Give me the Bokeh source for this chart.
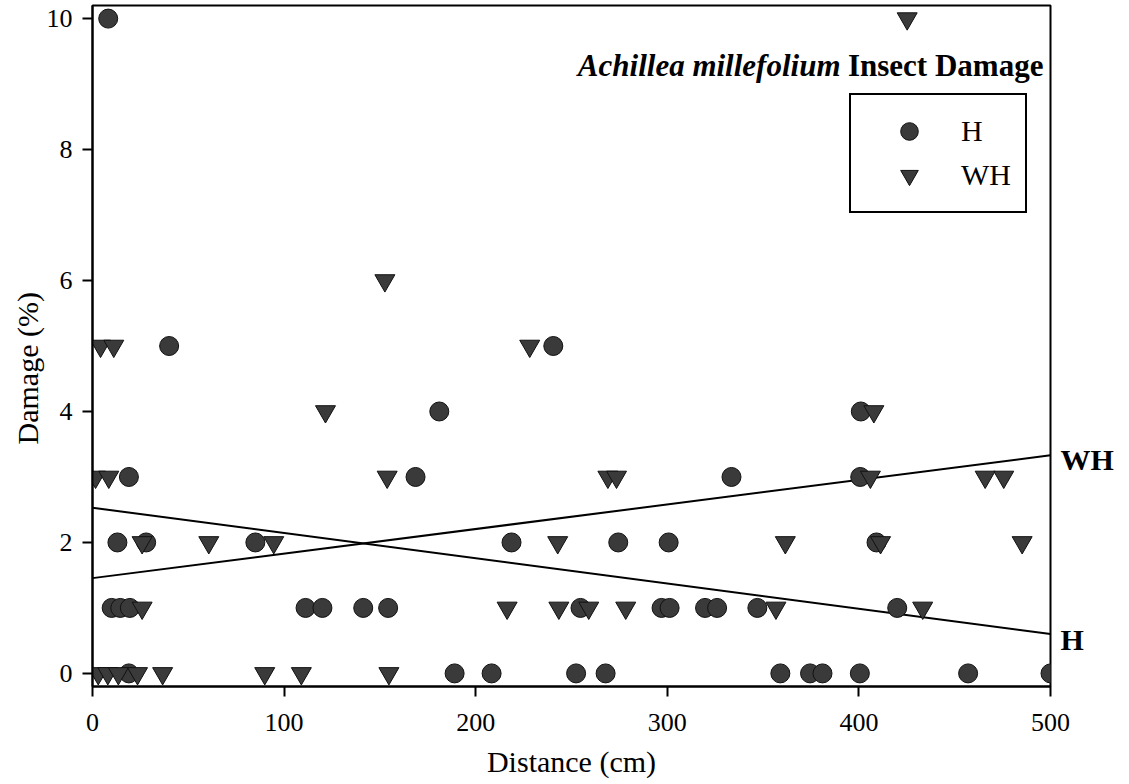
from bokeh.plotting import figure
from bokeh.models import (Legend, LegendItem, Label, Range1d, FixedTicker, LinearAxis,
                          Title)
from bokeh.embed import file_html
from bokeh.resources import INLINE

# H series (distance cm, damage %)
h_x = [8.2, 40, 240.5, 181, 401, 19, 168.6, 333.5, 400.7, 13, 28, 85, 218.7, 274.4,
       300.7, 409.2, 10, 14.5, 19.5, 111.2, 120, 141.3, 154.3, 254.7, 297, 301.2,
       319.7, 326, 347, 420, 19, 189, 208.3, 252.4, 267.8, 359, 374.5, 381, 400.5,
       457, 500]
h_y = [10, 5, 5, 4, 4, 3, 3, 3, 3, 2, 2, 2, 2, 2,
       2, 2, 1, 1, 1, 1, 1, 1, 1, 1, 1, 1,
       1, 1, 1, 1, 0, 0, 0, 0, 0, 0, 0, 0, 0,
       0, 0]

# WH series
wh_x = [425.2, 152.6, 4.2, 11.1, 228.2, 121.6, 407.8, 1.6, 8.5, 153.8, 269, 273.5,
        406, 465.9, 475.6, 25.9, 60.7, 94.6, 242.8, 361.6, 411.3, 485.2, 25.9,
        216.4, 243.4, 259, 278.3, 356.7, 433.3, 3, 8, 13.5, 23.5, 36.6, 89.9, 109,
        154.7]
wh_y = [10, 6, 5, 5, 5, 4, 4, 3, 3, 3, 3, 3,
        3, 3, 3, 2, 2, 2, 2, 2, 2, 2, 1,
        1, 1, 1, 1, 1, 1, 0, 0, 0, 0, 0, 0, 0,
        0]

# regression lines (intercept, slope)
fit_names = ["WH", "H"]
fit_intercept = [1.455, 2.53]
fit_slope = [0.00375, -0.00386]
fit_x = [0, 500]
# where the line-end labels sit on the damage scale
fit_label_y = [3.27, 0.52]

x_ticks = [0, 100, 200, 300, 400, 500]
y_ticks = [0, 2, 4, 6, 8, 10]

FONT = "Liberation Serif"

p = figure(width=1129, height=784, output_backend="svg", toolbar_location=None,
           x_range=Range1d(0, 500), y_range=Range1d(-0.2, 10.2),
           min_border_left=92, min_border_right=79, min_border_top=5,
           min_border_bottom=98)
p.background_fill_color = "white"
p.border_fill_color = "white"
p.grid.visible = False
p.outline_line_color = "black"
p.outline_line_width = 2

for ax in (p.xaxis[0], p.yaxis[0]):
    ax.axis_line_width = 2
    ax.axis_line_color = "black"
    ax.major_tick_line_width = 2
    ax.major_tick_line_color = "black"
    ax.major_tick_in = 0
    ax.major_tick_out = 10
    ax.minor_tick_line_color = None
    ax.major_label_text_font = FONT
    ax.major_label_text_font_size = "26px"
    ax.major_label_text_color = "black"
    ax.axis_label_text_font = FONT
    ax.axis_label_text_font_size = "30px"
    ax.axis_label_text_font_style = "normal"
    ax.axis_label_text_color = "black"

p.xaxis.ticker = FixedTicker(ticks=x_ticks)
p.yaxis.ticker = FixedTicker(ticks=y_ticks)
p.xaxis.axis_label = "Distance (cm)"
p.xaxis.major_label_standoff = 17
p.yaxis.major_label_standoff = 10
p.xaxis.axis_label_standoff = 11

# y axis title, sitting a little below the frame centre as in the picture
p.add_layout(Title(text="Damage (%)", align="left", offset=242, standoff=0,
                   text_font=FONT, text_font_size="30px", text_font_style="normal",
                   text_color="black"), "left")

# regression lines
for name, b0, b1 in zip(fit_names, fit_intercept, fit_slope):
    p.line(fit_x, [b0 + b1 * x for x in fit_x], line_color="black", line_width=2)

# line-end labels as a right-hand axis
rax = LinearAxis(ticker=FixedTicker(ticks=fit_label_y),
                 major_label_overrides={v: n for v, n in zip(fit_label_y, fit_names)})
rax.axis_line_color = None
rax.major_tick_line_color = None
rax.minor_tick_line_color = None
rax.major_tick_in = 0
rax.major_tick_out = 0
rax.major_label_standoff = 10
rax.major_label_text_font = FONT
rax.major_label_text_font_size = "30px"
rax.major_label_text_font_style = "bold"
rax.major_label_text_color = "black"
p.add_layout(rax, "right")

r_h = p.scatter(h_x, h_y, marker="circle", size=19, fill_color="#3a3a3a",
                line_color="#111111", line_width=1)
r_wh = p.scatter(wh_x, wh_y, marker="inverted_triangle", size=20, fill_color="#3a3a3a",
                 line_color="#111111", line_width=1)

legend = Legend(items=[LegendItem(label="H", renderers=[r_h]),
                       LegendItem(label="WH", renderers=[r_wh])],
                location=(757, 473), orientation="vertical")
legend.border_line_color = "black"
legend.border_line_alpha = 1
legend.border_line_width = 2
legend.background_fill_color = "white"
legend.background_fill_alpha = 1
legend.label_text_font = FONT
legend.label_text_font_size = "30px"
legend.label_text_color = "black"
legend.glyph_width = 88
legend.glyph_height = 44
legend.label_height = 40
legend.spacing = 0
legend.padding = 14
legend.margin = 0
legend.label_standoff = 8
p.add_layout(legend)

# title inside plot
p.add_layout(Label(x=496.3, y=9.28, text="Insect Damage", text_align="right",
                   text_baseline="middle", text_font=FONT, text_font_size="31px",
                   text_font_style="bold", text_color="black"))
p.add_layout(Label(x=390.4, y=9.28, text="Achillea millefolium", text_align="right",
                   text_baseline="middle", text_font=FONT, text_font_size="31px",
                   text_font_style="bold italic", text_color="black"))

open("out.html", "w").write(file_html(p, INLINE))
